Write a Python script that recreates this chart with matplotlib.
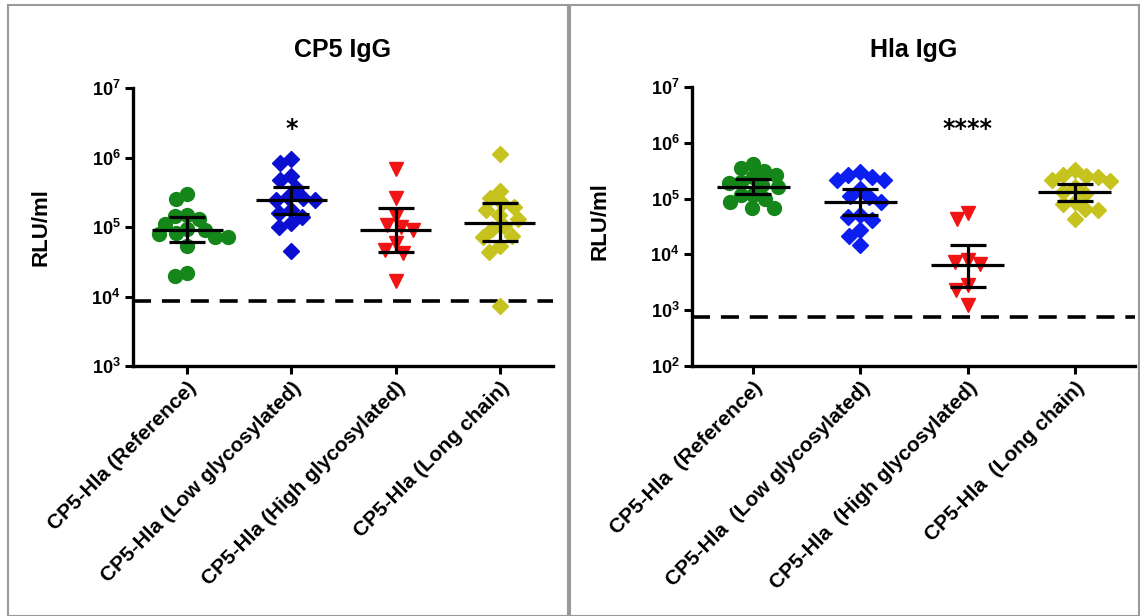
import numpy as np
import matplotlib
matplotlib.use("Agg")
import matplotlib.pyplot as plt
from matplotlib.patches import Rectangle

# ---------------- data ----------------
categories = ["CP5-Hla (Reference)", "CP5-Hla (Low glycosylated)",
              "CP5-Hla (High glycosylated)", "CP5-Hla (Long chain)"]
categories_r = ["CP5-Hla  (Reference)", "CP5-Hla  (Low glycosylated)",
                "CP5-Hla  (High glycosylated)", "CP5-Hla  (Long chain)"]

cp5_ref = [3.0e5, 2.5e5, 1.45e5, 1.5e5, 1.3e5, 1.1e5, 9.0e4, 7.8e4, 7.2e4, 8.1e4,
           7.2e4, 5.4e4, 2.0e4, 2.2e4, 9.5e4]
cp5_low = [8.3e5, 9.5e5, 5.4e5, 4.7e5, 3.7e5, 2.6e5, 2.45e5, 2.7e5, 2.45e5, 1.6e5,
           1.75e5, 1.4e5, 1.15e5, 1.0e5, 4.5e4]
cp5_high = [6.9e5, 2.6e5, 1.45e5, 1.07e5, 9.1e4, 1.0e5, 5.9e4, 4.7e4, 4.2e4, 1.65e4]
cp5_long = [1.12e6, 3.3e5, 2.6e5, 2.2e5, 1.75e5, 1.95e5, 1.48e5, 1.32e5, 9.5e4,
            1.02e5, 7.4e4, 7.1e4, 5.4e4, 4.3e4, 7.2e3]
cp5_mean = [9.1e4, 2.45e5, 9.1e4, 1.15e5]
cp5_lo = [6.0e4, 1.55e5, 4.4e4, 6.2e4]
cp5_hi = [1.38e5, 3.8e5, 1.9e5, 2.2e5]
cp5_cutoff = 8.5e3

hla_ref = [4.1e5, 3.5e5, 3.1e5, 2.45e5, 2.65e5, 2.0e5, 1.75e5, 1.9e5, 1.15e5, 1.15e5,
           8.7e4, 1.0e5, 6.9e4, 6.9e4, 1.6e5]
hla_low = [2.65e5, 3.0e5, 2.15e5, 2.15e5, 2.45e5, 1.5e5, 1.1e5, 1.05e5, 8.7e4, 4.7e4,
           4.1e4, 5.0e4, 2.7e4, 2.15e4, 1.5e4]
hla_high = [5.5e4, 4.3e4, 7.9e3, 6.8e3, 7.4e3, 2.8e3, 2.3e3, 1.26e3]
hla_long = [3.2e5, 2.45e5, 2.7e5, 2.5e5, 2.15e5, 2.1e5, 1.6e5, 1.32e5, 1.2e5, 8.7e4,
            6.6e4, 7.9e4, 6.2e4, 4.3e4]
hla_mean = [1.6e5, 8.7e4, 6.5e3, 1.3e5]
hla_lo = [1.2e5, 5.0e4, 2.65e3, 9.1e4]
hla_hi = [2.25e5, 1.48e5, 1.5e4, 1.86e5]
hla_cutoff = 7.5e2

colors = ["#15871a", "#0a0fd0", "#f01414", "#c6c21e"]
colors_r = ["#15871a", "#0d1ff0", "#f01414", "#c6c21e"]
markers = ["o", "D", "v", "D"]
msizes = [10, 8.2, 10, 8.2]

# ---------------- fonts ----------------
plt.rcParams["font.family"] = ["Liberation Sans", "DejaVu Sans"]
plt.rcParams["font.weight"] = "bold"
plt.rcParams["mathtext.fontset"] = "custom"
plt.rcParams["mathtext.rm"] = "Liberation Sans:bold"
plt.rcParams["mathtext.bf"] = "Liberation Sans:bold"


def swarm(vals, px_x, px_dec, diam):
    lv = np.log10(vals) * px_dec
    order = np.argsort(-lv)
    placed = []
    offs = np.zeros(len(vals))
    for i in order:
        y = lv[i]
        cands = [0.0]
        for (xp, yp) in placed:
            dy = abs(y - yp)
            if dy < diam:
                dx = np.sqrt(diam ** 2 - dy ** 2)
                cands += [xp + dx, xp - dx]
        cands = sorted(cands, key=lambda c: (abs(c), c))
        for c in cands:
            ok = all((c - xp) ** 2 + (y - yp) ** 2 >= diam ** 2 - 1e-6 for xp, yp in placed)
            if ok:
                offs[i] = c / px_x
                placed.append((c, y))
                break
    return offs


fig = plt.figure(figsize=(11.4, 6.16), dpi=100)
fig.patches.append(Rectangle((8 / 1140, 0), 560 / 1140, 611 / 616, transform=fig.transFigure,
                             fill=False, edgecolor="#9a9a9a", lw=1.5))
fig.patches.append(Rectangle((570 / 1140, 0), 569 / 1140, 611 / 616, transform=fig.transFigure,
                             fill=False, edgecolor="#9a9a9a", lw=1.5))


def panel(rect, groups, means, los, his, cutoff, ylim, xlim, labels, cols, title,
          ylabel_xy, star, star_x, star_y, px_x, px_dec):
    ax = fig.add_axes(rect)
    ax.set_yscale("log")
    for i, vals in enumerate(groups):
        offs = swarm(vals, px_x, px_dec, 12.5)
        ax.plot(i + offs, vals, linestyle="none", marker=markers[i], ms=msizes[i],
                color=cols[i], mec=cols[i], zorder=2)
        ax.plot([i - 0.34, i + 0.34], [means[i]] * 2, color="black", lw=2.3, zorder=3,
                solid_capstyle="butt")
        ax.errorbar([i], [means[i]], yerr=[[means[i] - los[i]], [his[i] - means[i]]],
                    fmt="none", ecolor="black", elinewidth=2.3, capsize=13, capthick=2.3,
                    zorder=3)
    ax.axhline(cutoff, color="black", lw=2.6, dashes=(5, 3), zorder=1)
    ax.set_ylim(*ylim)
    ax.set_xlim(*xlim)
    lo_e, hi_e = int(np.log10(ylim[0])), int(np.log10(ylim[1]))
    ticks = [10.0 ** k for k in range(lo_e, hi_e + 1)]
    ax.set_yticks(ticks)
    ax.set_yticklabels([r"$\mathbf{10^{%d}}$" % k for k in range(lo_e, hi_e + 1)], fontsize=13)
    ax.yaxis.set_minor_locator(matplotlib.ticker.NullLocator())
    ax.set_xticks(range(4))
    ax.set_xticklabels(labels, rotation=45, ha="right", rotation_mode="anchor",
                       fontsize=15, fontweight="bold")
    for s in ["top", "right"]:
        ax.spines[s].set_visible(False)
    for s in ["left", "bottom"]:
        ax.spines[s].set_linewidth(2.4)
    ax.tick_params(axis="both", width=2.2, length=6, direction="out", pad=3)
    cx = rect[0] + rect[2] / 2
    fig.text(cx, 1 - 50 / 616, title, ha="center", va="center", fontsize=18, fontweight="bold")
    fig.text(ylabel_xy[0], ylabel_xy[1], "RLU/ml", rotation=90, ha="center",
             va="center", fontsize=16, fontweight="bold")
    ax.text(star_x, star_y, star, ha="center", va="center", fontsize=17, fontweight="bold",
            family="DejaVu Sans")
    return ax


panel([133 / 1140, 1 - 366 / 616, 420 / 1140, 278 / 616],
      [cp5_ref, cp5_low, cp5_high, cp5_long], cp5_mean, cp5_lo, cp5_hi, cp5_cutoff,
      (1e3, 1e7), (-0.52, 3.51), categories, colors, "CP5 IgG", (41 / 1140, 1 - 227 / 616),
      "*", 1, 2.6e6, 104, 70)

panel([692 / 1140, 1 - 366 / 616, 443 / 1140, 279 / 616],
      [hla_ref, hla_low, hla_high, hla_long], hla_mean, hla_lo, hla_hi, hla_cutoff,
      (1e2, 1e7), (-0.57, 3.56), categories_r, colors_r, "Hla IgG", (600 / 1140, 1 - 221 / 616),
      "****", 2, 1.75e6, 107, 56)

fig.savefig("out.png", dpi=100)
